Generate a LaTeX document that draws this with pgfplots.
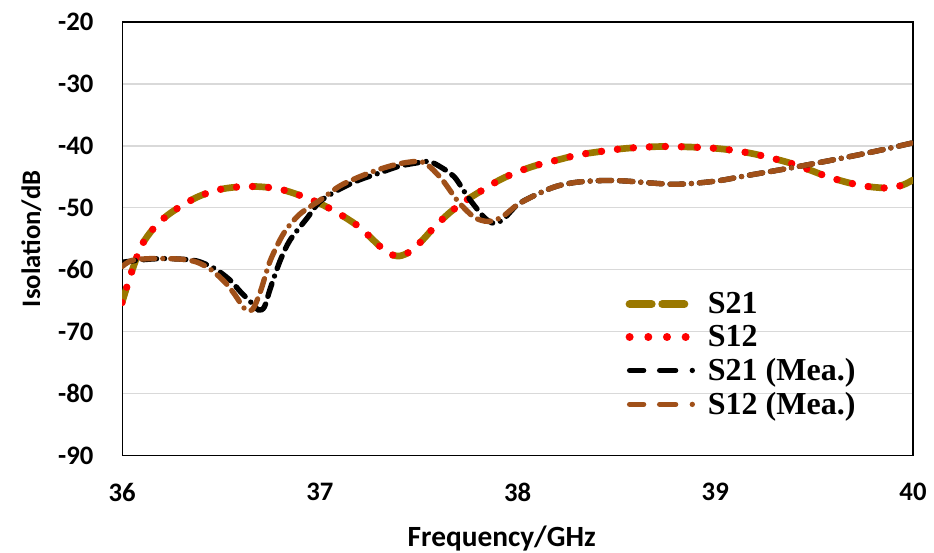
\documentclass[border=0pt]{standalone}
\usepackage{fontspec}
\setmainfont{Carlito}
\newfontfamily\legfont{Liberation Serif}
\usepackage{pgfplots}
\pgfplotsset{compat=1.18}
\definecolor{olivec}{RGB}{154,120,0}
\definecolor{brownc}{RGB}{160,80,25}
\definecolor{gridc}{RGB}{217,217,217}
\begin{document}
\begin{tikzpicture}
\begin{axis}[
  name=ax,
  scale only axis,
  width=593pt, height=325pt,
  xmin=36, xmax=40, ymin=-90, ymax=-20,
  xtick={36,37,38,39,40}, ytick={-90,-80,-70,-60,-50,-40,-30,-20},
  major tick length=0pt,
  ymajorgrids, grid style={gridc, line width=1pt},
  axis line style={black, line width=0.8pt},
  /pgf/number format/assume math mode=true,
  tick label style={font=\bfseries\fontsize{20}{24}\selectfont},
  yticklabel style={xshift=-18pt},
  xticklabel style={yshift=-17pt},
  xlabel={Frequency/GHz}, ylabel={Isolation/dB},
  every axis x label/.style={at={(rel axis cs:0.48,0)}, anchor=base, yshift=-68pt, font=\bfseries\fontsize{22}{26}\selectfont},
  every axis y label/.style={at={(rel axis cs:0,0.5)}, rotate=90, anchor=center, yshift=68pt, font=\bfseries\fontsize{20}{24}\selectfont},
  legend style={draw=none, fill=none, at={(axis cs:38.544,-63.2)}, anchor=north west,
    font=\legfont\bfseries\fontsize{24}{26}\selectfont, inner sep=0pt, row sep=3.3pt},
  legend cell align=left,
]
\addplot[olivec, line width=5pt, line cap=round, dash pattern=on 12pt off 12pt, smooth, forget plot] coordinates {
(36.00,-65.3) (36.03,-62.2) (36.06,-59.3) (36.10,-56.0) (36.16,-53.3) (36.23,-51.2) (36.32,-49.3) (36.40,-48.0) (36.50,-47.0) (36.60,-46.6) (36.70,-46.6) (36.80,-47.0) (36.90,-48.0) (37.00,-49.3) (37.10,-51.0) (37.20,-53.1) (37.27,-55.2) (37.34,-57.2) (37.40,-57.8) (37.46,-57.0) (37.52,-55.2) (37.58,-53.1) (37.66,-50.7) (37.74,-48.8) (37.82,-47.2) (37.91,-45.5) (38.00,-44.2) (38.10,-43.1) (38.20,-42.3) (38.30,-41.5) (38.40,-41.0) (38.55,-40.4) (38.75,-40.1) (39.00,-40.4) (39.18,-41.2) (39.36,-42.6) (39.47,-43.8) (39.57,-45.0) (39.68,-46.0) (39.78,-46.6) (39.88,-46.8) (39.95,-46.3) (40.00,-45.5)};
\addplot[red, line width=5.5pt, line cap=round, dash pattern=on 0pt off 12pt, smooth, forget plot] coordinates {
(36.00,-65.3) (36.03,-62.2) (36.06,-59.3) (36.10,-56.0) (36.16,-53.3) (36.23,-51.2) (36.32,-49.3) (36.40,-48.0) (36.50,-47.0) (36.60,-46.6) (36.70,-46.6) (36.80,-47.0) (36.90,-48.0) (37.00,-49.3) (37.10,-51.0) (37.20,-53.1) (37.27,-55.2) (37.34,-57.2) (37.40,-57.8) (37.46,-57.0) (37.52,-55.2) (37.58,-53.1) (37.66,-50.7) (37.74,-48.8) (37.82,-47.2) (37.91,-45.5) (38.00,-44.2) (38.10,-43.1) (38.20,-42.3) (38.30,-41.5) (38.40,-41.0) (38.55,-40.4) (38.75,-40.1) (39.00,-40.4) (39.18,-41.2) (39.36,-42.6) (39.47,-43.8) (39.57,-45.0) (39.68,-46.0) (39.78,-46.6) (39.88,-46.8) (39.95,-46.3) (40.00,-45.5)};
\addplot[black, line width=4pt, line cap=round, dash pattern=on 10pt off 6pt on 10pt off 6pt on 0pt off 6pt, smooth, forget plot] coordinates {
(36.00,-58.8) (36.10,-58.4) (36.20,-58.2) (36.30,-58.3) (36.38,-58.6) (36.45,-59.5) (36.50,-60.5) (36.55,-61.8) (36.60,-63.6) (36.65,-65.2) (36.69,-66.5) (36.72,-66.0) (36.75,-63.0) (36.80,-58.5) (36.85,-55.2) (36.94,-51.5) (37.00,-49.0) (37.10,-47.0) (37.20,-45.5) (37.30,-44.4) (37.40,-43.3) (37.50,-42.7) (37.55,-42.5) (37.60,-43.2) (37.68,-45.0) (37.75,-48.3) (37.83,-51.5) (37.88,-52.5) (37.93,-51.8) (38.00,-49.5) (38.10,-47.8) (38.20,-46.5) (38.32,-45.8) (38.50,-45.6) (38.79,-46.2) (39.00,-45.7) (39.16,-44.8) (39.41,-43.4) (39.67,-41.8) (39.85,-40.6) (40.00,-39.5)};
\addplot[brownc, line width=4pt, line cap=round, dash pattern=on 10pt off 6pt on 10pt off 6pt on 0pt off 6pt, smooth, forget plot] coordinates {
(36.00,-59.5) (36.05,-58.5) (36.15,-58.2) (36.30,-58.3) (36.38,-58.8) (36.45,-60.0) (36.52,-62.0) (36.57,-64.0) (36.62,-66.3) (36.66,-66.4) (36.70,-63.5) (36.75,-58.5) (36.82,-54.0) (36.90,-51.0) (37.00,-48.8) (37.10,-46.5) (37.20,-45.0) (37.30,-43.8) (37.40,-42.9) (37.50,-42.5) (37.55,-43.2) (37.62,-45.5) (37.70,-49.0) (37.78,-51.5) (37.85,-52.2) (37.92,-51.5) (38.00,-49.5) (38.10,-47.8) (38.20,-46.5) (38.32,-45.8) (38.50,-45.6) (38.79,-46.2) (39.00,-45.7) (39.16,-44.8) (39.41,-43.4) (39.67,-41.8) (39.85,-40.6) (40.00,-39.5)};
\addlegendimage{legend image code/.code={
  \path (0pt,0pt) (59.5pt,0pt);
  \draw[olivec, line width=6pt, line cap=round, dash pattern=on 16.5pt off 8pt] (3pt,0pt) -- (44pt,0pt);}}
\addlegendentry{S21}
\addlegendimage{legend image code/.code={
  \path (0pt,0pt) (59.5pt,0pt);
  \draw[red, line width=6pt, line cap=round, dash pattern=on 0pt off 14pt] (3pt,0pt) -- (46pt,0pt);}}
\addlegendentry{S12}
\addlegendimage{legend image code/.code={
  \path (0pt,0pt) (59.5pt,0pt);
  \draw[black, line width=4pt, line cap=round, dash pattern=on 10.5pt off 12pt on 12pt off 12.5pt on 0pt off 20pt] (3pt,0pt) -- (50pt,0pt);}}
\addlegendentry{S21 (Mea.)}
\addlegendimage{legend image code/.code={
  \path (0pt,0pt) (59.5pt,0pt);
  \draw[brownc, line width=4pt, line cap=round, dash pattern=on 10.5pt off 12pt on 12pt off 12.5pt on 0pt off 20pt] (3pt,0pt) -- (50pt,0pt);}}
\addlegendentry{S12 (Mea.)}
\end{axis}
\pgfresetboundingbox
\path[use as bounding box] ([shift={(-91.5pt,-72.75pt)}]ax.south west) rectangle ([shift={(15.75pt,16.5pt)}]ax.north east);
\end{tikzpicture}
\end{document}
